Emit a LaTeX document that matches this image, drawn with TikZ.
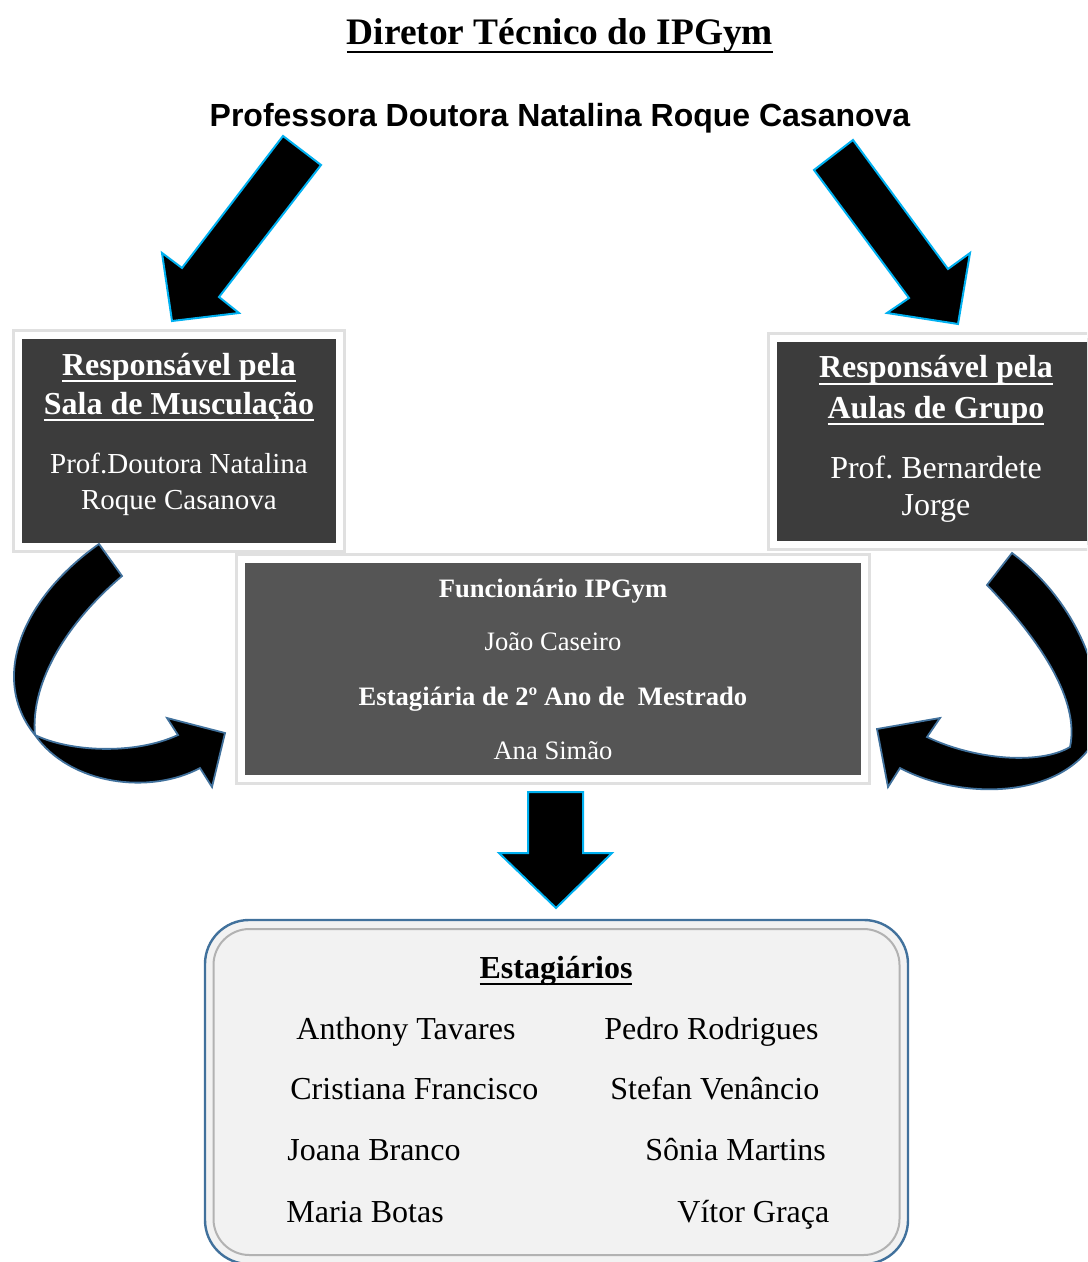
\documentclass[tikz,border=0pt]{standalone}
\usepackage{fontspec}
\setmainfont{Liberation Serif}
\newfontfamily\arialf{Liberation Sans}
\usepackage{tikz}
\usetikzlibrary{shadows}
\usepackage{xcolor}
\definecolor{cDark}{RGB}{60,60,60}
\definecolor{cMid}{RGB}{85,85,85}
\definecolor{cCyan}{RGB}{0,176,240}
\definecolor{cSteel}{RGB}{65,113,156}
\definecolor{cPanel}{RGB}{242,242,242}
\newcommand{\fsz}[1]{\fontsize{#1}{#1}\selectfont}
\newsavebox{\ulbox}
\newcommand{\undl}[1]{\sbox{\ulbox}{#1}\rlap{\usebox{\ulbox}}\rule[-0.22em]{\wd\ulbox}{0.9pt}}

\begin{document}
\begin{tikzpicture}[
  x=0.5pt, y=-0.5pt,
  frame/.style={rectangle, draw=white, line width=3.5pt, fill=cDark, inner sep=0pt,
    drop shadow={opacity=.25, shadow xshift=0pt, shadow yshift=-3pt},
    preaction={draw=black!12, line width=6.5pt}},
  panel/.style={rectangle, rounded corners=22pt, draw=cSteel, line width=1.2pt,
    fill=cPanel, inner sep=0pt},
  bevel/.style={rectangle, rounded corners=18pt, draw=gray!60, line width=1pt, inner sep=0pt},
  ttl/.style={font=\bfseries\fsz{18.7}, anchor=base, inner sep=0pt},
  sub/.style={font=\arialf\bfseries\fsz{16}, anchor=base, inner sep=0pt},
  hd/.style={font=\bfseries\fsz{16}, text=white, anchor=base, inner sep=0pt},
  bd/.style={font=\fsz{16}, text=white, anchor=base, inner sep=0pt},
  fhd/.style={font=\bfseries\fsz{13.3}, text=white, anchor=base, inner sep=0pt},
  fbd/.style={font=\fsz{13.3}, text=white, anchor=base, inner sep=0pt},
  nm/.style={font=\fsz{16}, anchor=base west, inner sep=0pt},
  blk/.style={fill=black, draw=cCyan, line width=1pt, line join=miter},
  bnd/.style={fill=black, draw=cSteel, line width=.9pt, line join=miter},
]
\useasboundingbox (0,0) rectangle (1087,1262);
\clip (0,0) rectangle (1087,1262);

\node[ttl] (dir) at (560,45) {\undl{Diretor Técnico do IPGym}};
\node[sub] (prof) at (560,127) {Professora Doutora Natalina Roque Casanova};

\node[frame, minimum width=160.5pt, minimum height=105.5pt] (lbox) at (179,441) {};
\node[frame, minimum width=160.5pt, minimum height=103pt] (rbox) at (934,441.5) {};
\node[frame, fill=cMid, minimum width=311.5pt, minimum height=109.5pt] (fbox) at (553,669) {};
\node[panel, minimum width=351.5pt, minimum height=172pt] (ebox) at (556.5,1092) {};
\node[bevel, minimum width=343pt, minimum height=163pt] (ebin) at (556.5,1092) {};

\node[hd] (l1) at (179,375) {\undl{Responsável pela}};
\node[hd] (l2) at (179,414) {\undl{Sala de Musculação}};
\node[bd, font=\fsz{14.5}] (l3) at (179,473) {Prof.Doutora Natalina};
\node[bd, font=\fsz{14.5}] (l4) at (179,509) {Roque Casanova};

\node[hd] (r1) at (936,378) {\undl{Responsável pela}};
\node[hd] (r2) at (936,418) {\undl{Aulas de Grupo}};
\node[bd] (r3) at (936,478) {Prof.\ Bernardete};
\node[bd] (r4) at (936,515) {Jorge};

\node[fhd] (f1) at (553,597) {Funcionário IPGym};
\node[fbd] (f2) at (553,650) {João Caseiro};
\node[fhd] (f3) at (553,705) {Estagiária de 2º Ano de\ \ Mestrado};
\node[fbd] (f4) at (553,759) {Ana Simão};

\node[ttl, font=\bfseries\fsz{16}] (est) at (556,978) {\undl{Estagiários}};
\node[nm] (n1) at (296,1039) {Anthony Tavares};
\node[nm] (n2) at (604,1039) {Pedro Rodrigues};
\node[nm] (n3) at (290,1099) {Cristiana Francisco};
\node[nm] (n4) at (610,1099) {Stefan Venâncio};
\node[nm] (n5) at (287,1160) {Joana Branco};
\node[nm] (n6) at (645,1160) {Sônia Martins};
\node[nm] (n7) at (286,1222) {Maria Botas};
\node[nm] (n8) at (677,1222) {Vítor Graça};

\draw[blk] (283,136) -- (321,165) -- (219,297) -- (239,313) -- (172,321) -- (162,253) -- (182,268) -- cycle;
\draw[blk] (853,140) -- (814,170) -- (909,298) -- (887,313) -- (958,324) -- (970,253) -- (948,269) -- cycle;
\draw[blk] (528,792) -- (583,792) -- (583,853) -- (612,853) -- (556,908) -- (499,853) -- (528,853) -- cycle;

\draw[bnd] (99,544) -- (122,576) .. controls (70,620) and (30,680) .. (35,735)
  .. controls (70,752) and (135,755) .. (178,735) -- (167,718) -- (225,733) -- (212,787) -- (200,768)
  .. controls (150,795) and (70,785) .. (35,735)
  .. controls (-10,680) and (20,600) .. (99,544) -- cycle;
\draw[bnd] (1012,553) -- (987,585) .. controls (1040,640) and (1080,700) .. (1070,747)
  .. controls (1040,765) and (975,760) .. (927,737) -- (940,718) -- (877,729) -- (888,787) -- (900,768)
  .. controls (960,800) and (1060,800) .. (1095,740)
  .. controls (1110,680) and (1075,600) .. (1012,553) -- cycle;
\end{tikzpicture}
\end{document}
